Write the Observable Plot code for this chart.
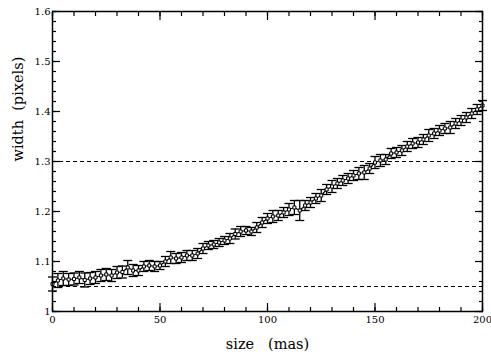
<!DOCTYPE html>
<html>
<head>
<meta charset="utf-8">
<script src="https://cdn.jsdelivr.net/npm/d3@7"></script>
<script src="https://cdn.jsdelivr.net/npm/@observablehq/plot@0.6"></script>
<style>
  html, body { margin: 0; padding: 0; background: #fff; }
  svg { display: block; }
  svg, svg text { font-family: "DejaVu Serif", serif !important; }
</style>
</head>
<body>
<div id="chart"></div>
<script>
const sizes = [0,2.5,5,7.5,10,12.5,15,17.5,20,22.5,25,27.5,30,32.5,35,37.5,40,42.5,45,47.5,50,52.5,55,57.5,60,62.5,65,67.5,70,72.5,75,77.5,80,82.5,85,87.5,90,92.5,95,97.5,100,102.5,105,107.5,110,112.5,115,117.5,120,122.5,125,127.5,130,132.5,135,137.5,140,142.5,145,147.5,150,152.5,155,157.5,160,162.5,165,167.5,170,172.5,175,177.5,180,182.5,185,187.5,190,192.5,195,197.5,200];
const widths = [1.055,1.062,1.066,1.064,1.065,1.068,1.063,1.066,1.068,1.072,1.074,1.072,1.078,1.079,1.088,1.082,1.082,1.090,1.092,1.090,1.092,1.100,1.108,1.106,1.108,1.112,1.112,1.116,1.126,1.132,1.134,1.138,1.142,1.146,1.155,1.160,1.162,1.160,1.168,1.178,1.186,1.190,1.192,1.198,1.204,1.208,1.202,1.212,1.218,1.226,1.232,1.244,1.250,1.256,1.262,1.266,1.272,1.276,1.278,1.286,1.298,1.302,1.304,1.316,1.318,1.322,1.330,1.336,1.338,1.344,1.352,1.356,1.362,1.366,1.368,1.376,1.382,1.388,1.396,1.404,1.412];
const errors = [0.014,0.014,0.014,0.012,0.012,0.012,0.014,0.012,0.012,0.012,0.012,0.012,0.012,0.012,0.014,0.012,0.010,0.010,0.010,0.010,0.008,0.010,0.012,0.010,0.010,0.010,0.010,0.010,0.010,0.008,0.008,0.008,0.008,0.010,0.010,0.010,0.008,0.008,0.010,0.010,0.010,0.012,0.010,0.010,0.012,0.014,0.020,0.010,0.010,0.010,0.012,0.010,0.012,0.010,0.010,0.010,0.010,0.012,0.014,0.010,0.012,0.012,0.010,0.010,0.010,0.010,0.010,0.010,0.010,0.010,0.012,0.010,0.010,0.010,0.012,0.010,0.010,0.010,0.010,0.010,0.010];
const refLines = [1.05, 1.3];
const xMajor = [0, 50, 100, 150, 200];
const xMinor = d3.range(0, 201, 10);
const yMajor = [1, 1.1, 1.2, 1.3, 1.4, 1.5, 1.6];
const yMinor = d3.range(0, 31).map(i => 1 + i * 0.02);
const yLabels = ["1", "1.1", "1.2", "1.3", "1.4", "1.5", "1.6"];

const data = sizes.map((s, i) => ({x: s, y: widths[i], lo: widths[i] - errors[i], hi: widths[i] + errors[i]}));

const cap = { draw(ctx, size) { const w = 4.5; ctx.moveTo(-w, 0); ctx.lineTo(w, 0); } };

const chart = Plot.plot({
  width: 491,
  height: 358,
  marginLeft: 52,
  marginRight: 9,
  marginTop: 11,
  marginBottom: 47,
  style: { fontSize: "10px", color: "#000", background: "#fff" },
  x: { domain: [0, 200], label: null },
  y: { domain: [1, 1.6], label: null },
  marks: [
    Plot.ruleY(refLines, { stroke: "#000", strokeWidth: 1, strokeDasharray: "4,3" }),
    Plot.ruleX(data, { x: "x", y1: "lo", y2: "hi", stroke: "#000", strokeWidth: 1.3 }),
    Plot.dot(data, { x: "x", y: "lo", symbol: cap, stroke: "#000", strokeWidth: 1.3, r: 3 }),
    Plot.dot(data, { x: "x", y: "hi", symbol: cap, stroke: "#000", strokeWidth: 1.3, r: 3 }),
    Plot.line(data, { x: "x", y: "y", stroke: "#000", strokeWidth: 1.2 }),
    Plot.dot(data, { x: "x", y: "y", symbol: "square", r: 1.7, stroke: "#000", fill: "#fff", strokeWidth: 1 }),
    Plot.axisX(xMinor, { anchor: "bottom", tickSize: -4, tickFormat: () => "", strokeWidth: 1.2 }),
    Plot.axisX(xMajor, { anchor: "bottom", tickSize: -8, tickFormat: () => "", strokeWidth: 1.2 }),
    Plot.axisX(xMinor, { anchor: "top", tickSize: -4, tickFormat: () => "", strokeWidth: 1.2 }),
    Plot.axisX(xMajor, { anchor: "top", tickSize: -8, tickFormat: () => "", strokeWidth: 1.2 }),
    Plot.axisY(yMinor, { anchor: "left", tickSize: -4, tickFormat: () => "", strokeWidth: 1.2 }),
    Plot.axisY(yMajor, { anchor: "left", tickSize: -8, tickFormat: () => "", strokeWidth: 1.2 }),
    Plot.axisY(yMinor, { anchor: "right", tickSize: -4, tickFormat: () => "", strokeWidth: 1.2 }),
    Plot.axisY(yMajor, { anchor: "right", tickSize: -8, tickFormat: () => "", strokeWidth: 1.2 }),
    Plot.axisX(xMajor, { anchor: "bottom", tickSize: 0, tickPadding: 4, fontSize: 10, label: null }),
    Plot.axisY(yMajor, { anchor: "left", tickSize: 0, tickPadding: 2, fontSize: 10, label: null, tickFormat: (d, i) => yLabels[i] }),
    Plot.text(["size   (mas)"], { frameAnchor: "bottom", dy: 37, fontSize: 14.5, fill: "#000" }),
    Plot.text(["width  (pixels)"], { frameAnchor: "left", dx: -34, rotate: -90, fontSize: 14.5, fill: "#000" }),
    Plot.frame({ stroke: "#000", strokeWidth: 1.5 })
  ]
});
document.getElementById("chart").appendChild(chart);
</script>
</body>
</html>
